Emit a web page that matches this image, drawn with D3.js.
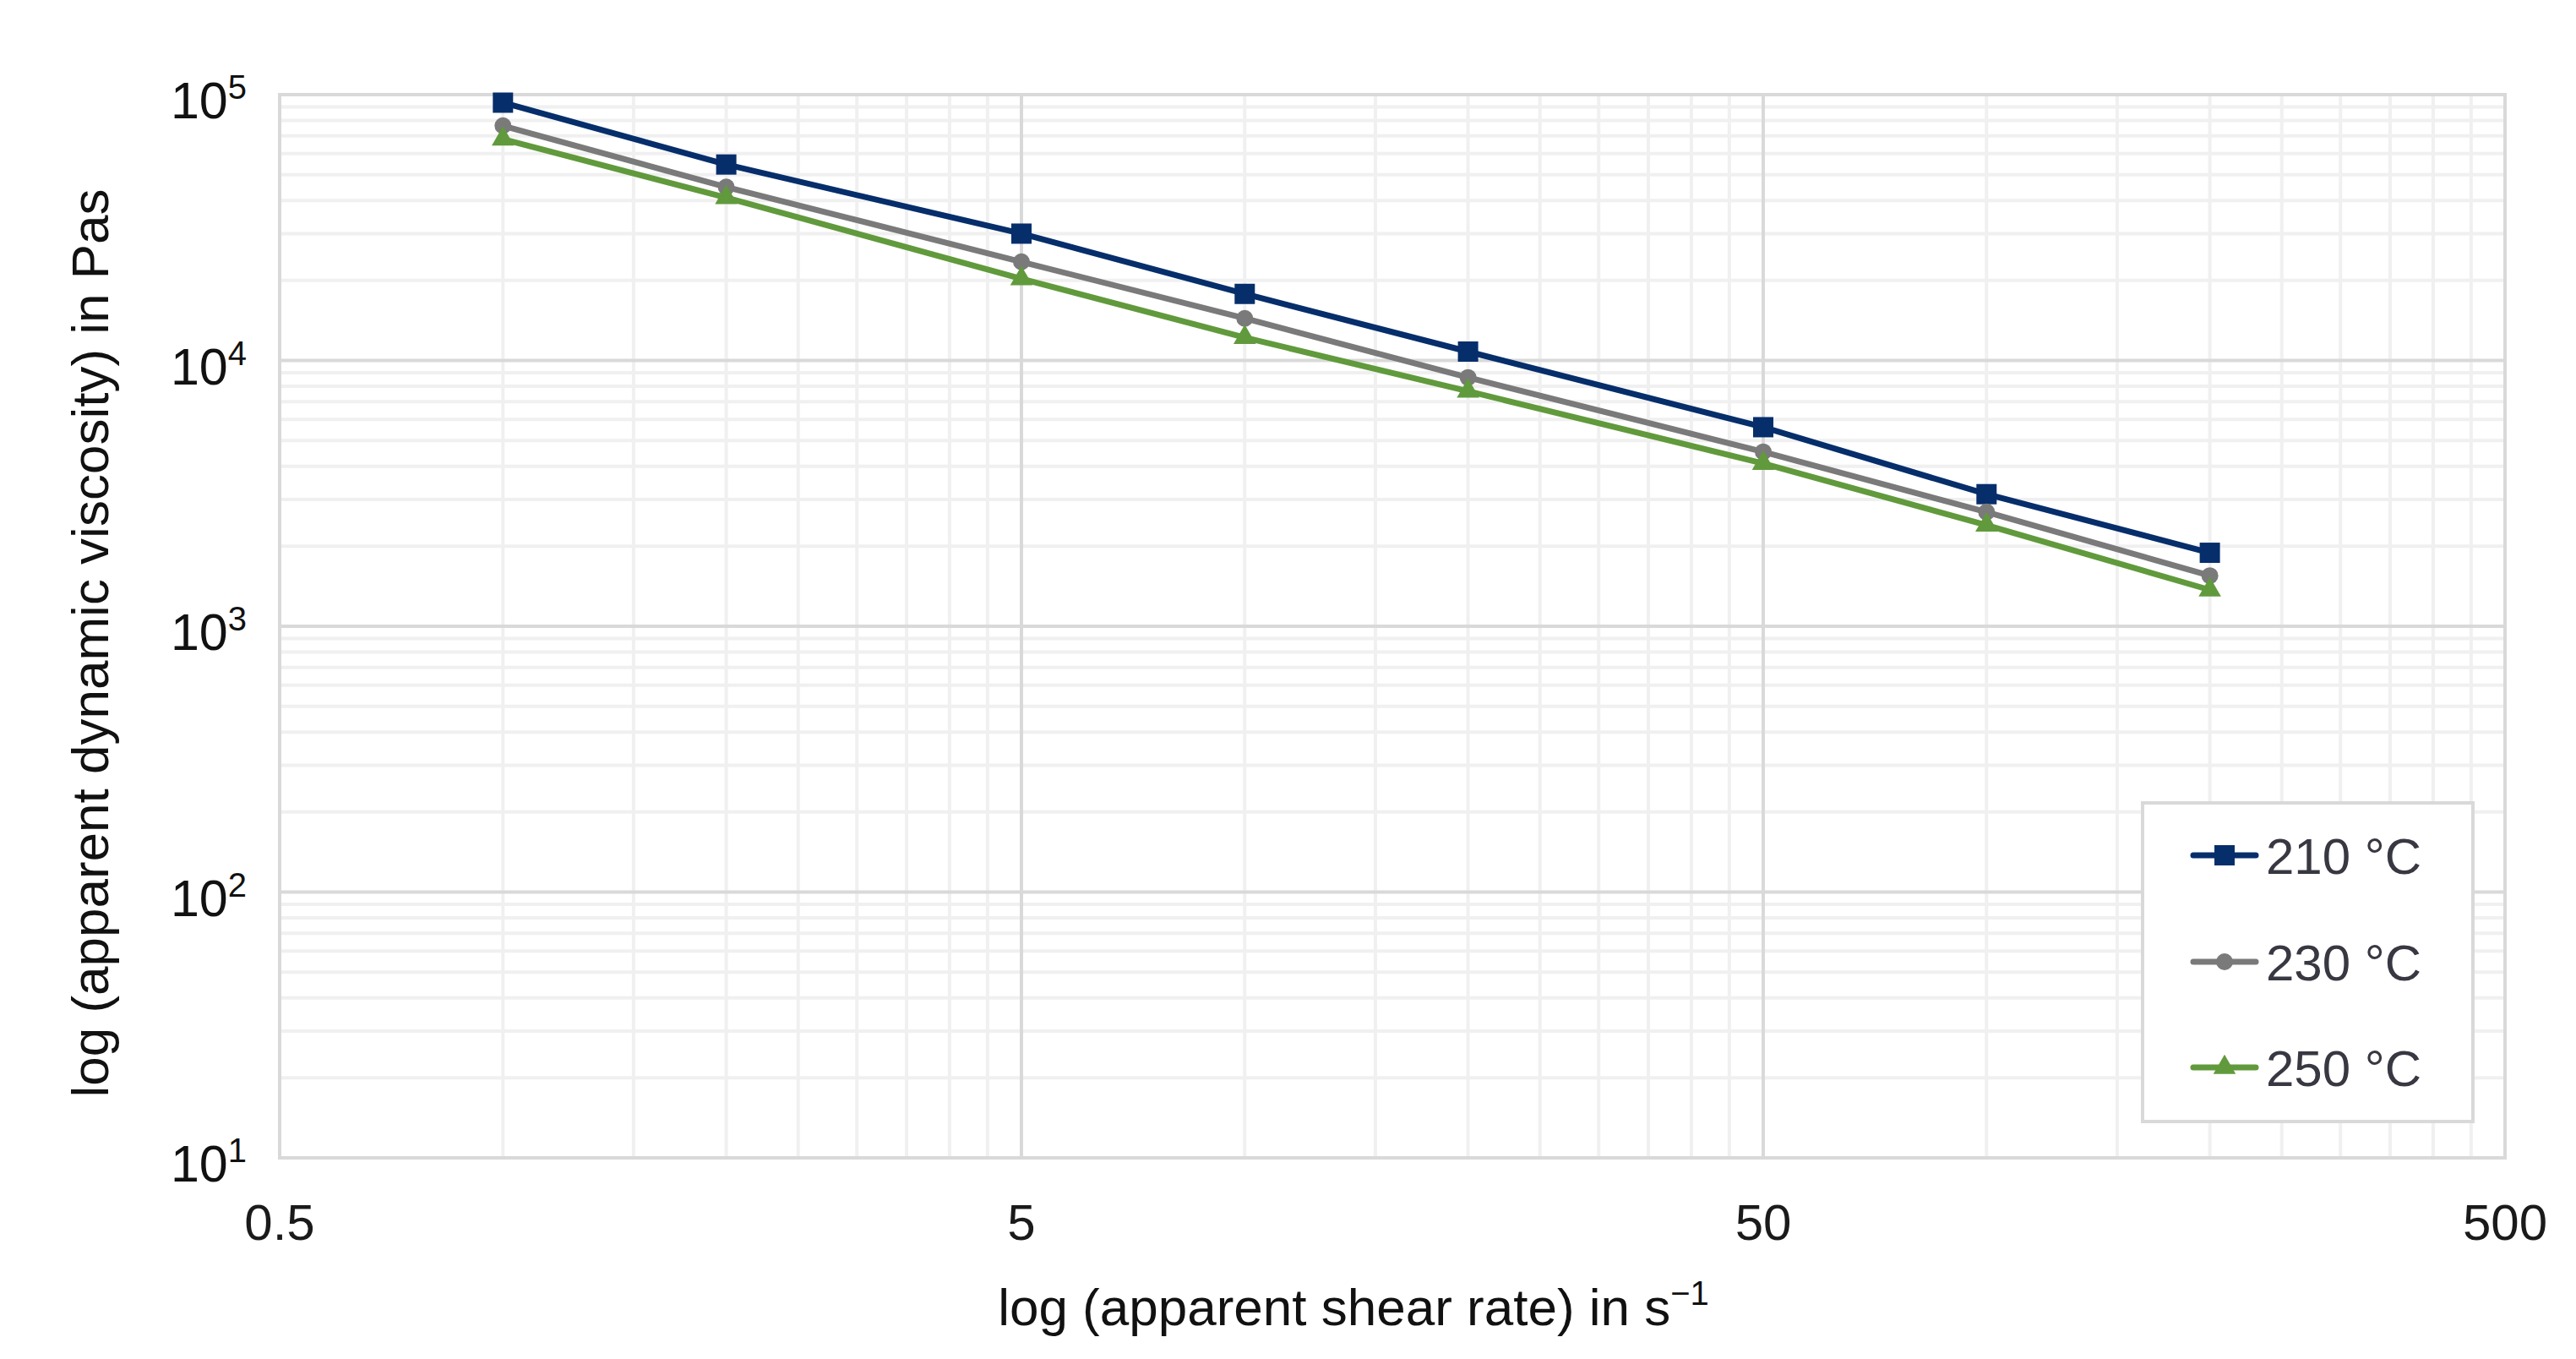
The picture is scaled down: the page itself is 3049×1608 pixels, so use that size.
<!DOCTYPE html>
<html>
<head>
<meta charset="utf-8">
<script src="https://cdn.jsdelivr.net/npm/d3@7"></script>
<style>
  html, body { margin: 0; padding: 0; background: #ffffff; }
  svg { display: block; }
  text { font-family: "Liberation Sans", Arial, sans-serif; }
</style>
</head>
<body>
<svg id="chart" width="3049" height="1608"></svg>
<script>
// ---- data ----
const shearRates = [1, 2, 5, 10, 20, 50, 100, 200];
const visc210 = [93300, 54600, 30000, 17800, 10800, 5610, 3140, 1890];
const visc230 = [76400, 44900, 23500, 14400, 8630, 4530, 2690, 1550];
const visc250 = [68000, 41000, 20300, 12200, 7660, 4100, 2400, 1370];
const seriesNames = ["210 °C", "230 °C", "250 °C"];
const xTickValues = [0.5, 5, 50, 500];
const xTickLabels = ["0.5", "5", "50", "500"];
const yTickValues = [10, 100, 1000, 10000, 100000];
const yTickExponents = ["1", "2", "3", "4", "5"];
const xTitle = "log (apparent shear rate) in s";
const xTitleSup = "\u22121";
const yTitle = "log (apparent dynamic viscosity) in Pas";

// ---- styling ----
const colors = ["#062e6b", "#7a7a7a", "#619a3c"];
const symbols = [d3.symbolSquare, d3.symbolCircle, d3.symbolTriangle];
const symbolSizes = [576, 314, 305];
const series = [visc210, visc230, visc250];

const svg = d3.select("#chart");
const L = 331, R = 2965, T = 112, B = 1370;

const x = d3.scaleLog().domain([0.5, 500]).range([L, R]);
const y = d3.scaleLog().domain([10, 100000]).range([B, T]);

// minor gridlines
const xMinor = [];
[0.5, 5, 50].forEach(b => { for (let k = 2; k <= 9; k++) xMinor.push(b * k); });
const yMinor = [];
[10, 100, 1000, 10000].forEach(b => { for (let k = 2; k <= 9; k++) yMinor.push(b * k); });

const grid = svg.append("g");
grid.selectAll(".xminor").data(xMinor).enter().append("line")
  .attr("x1", d => x(d)).attr("x2", d => x(d)).attr("y1", T).attr("y2", B)
  .attr("stroke", "#f0f0f0").attr("stroke-width", 4);
grid.selectAll(".yminor").data(yMinor).enter().append("line")
  .attr("y1", d => y(d)).attr("y2", d => y(d)).attr("x1", L).attr("x2", R)
  .attr("stroke", "#f0f0f0").attr("stroke-width", 4);
grid.selectAll(".xmajor").data(xTickValues).enter().append("line")
  .attr("x1", d => x(d)).attr("x2", d => x(d)).attr("y1", T).attr("y2", B)
  .attr("stroke", "#d9d9d9").attr("stroke-width", 4);
grid.selectAll(".ymajor").data(yTickValues).enter().append("line")
  .attr("y1", d => y(d)).attr("y2", d => y(d)).attr("x1", L).attr("x2", R)
  .attr("stroke", "#d9d9d9").attr("stroke-width", 4);

// plot frame
svg.append("rect").attr("x", L).attr("y", T).attr("width", R - L).attr("height", B - T)
  .attr("fill", "none").attr("stroke", "#d9d9d9").attr("stroke-width", 4);

// x tick labels
svg.append("g").selectAll("text").data(xTickValues).enter().append("text")
  .attr("x", d => x(d)).attr("y", 1467)
  .attr("text-anchor", "middle").attr("font-size", 60).attr("fill", "#1a1a1a")
  .text((d, i) => xTickLabels[i]);

// y tick labels
const yt = svg.append("g").selectAll("text").data(yTickValues).enter().append("text")
  .attr("x", 292).attr("y", d => y(d) + 28)
  .attr("text-anchor", "end").attr("font-size", 61).attr("fill", "#111");
yt.append("tspan").text("10");
yt.append("tspan").attr("dy", -23).attr("font-size", 40).text((d, i) => yTickExponents[i]);

// axis titles
const xt = svg.append("text").attr("x", 1602).attr("y", 1568)
  .attr("text-anchor", "middle").attr("font-size", 62).attr("fill", "#111");
xt.append("tspan").text(xTitle);
xt.append("tspan").attr("dy", -24).attr("font-size", 40).text(xTitleSup);

svg.append("text").attr("transform", "translate(128,761) rotate(-90)")
  .attr("text-anchor", "middle").attr("font-size", 62).attr("fill", "#111")
  .text(yTitle);

// series
const line = d3.line().x(d => x(d[0])).y(d => y(d[1]));
series.forEach((vals, si) => {
  const pts = shearRates.map((s, i) => [s, vals[i]]);
  const g = svg.append("g");
  g.append("path").datum(pts).attr("d", line)
    .attr("fill", "none").attr("stroke", colors[si]).attr("stroke-width", 7)
    .attr("stroke-linejoin", "round");
  g.selectAll("path.m").data(pts).enter().append("path")
    .attr("class", "m")
    .attr("transform", d => `translate(${x(d[0])},${y(d[1])})`)
    .attr("d", d3.symbol().type(symbols[si]).size(symbolSizes[si]))
    .attr("fill", colors[si]);
});

// legend
const lg = svg.append("g");
lg.append("rect").attr("x", 2536).attr("y", 950).attr("width", 391).attr("height", 377)
  .attr("fill", "#ffffff").attr("stroke", "#d9d9d9").attr("stroke-width", 4);
const legendY = [1012, 1138, 1263];
seriesNames.forEach((name, si) => {
  const ly = legendY[si];
  lg.append("line").attr("x1", 2596).attr("x2", 2670).attr("y1", ly).attr("y2", ly)
    .attr("stroke", colors[si]).attr("stroke-width", 7).attr("stroke-linecap", "round");
  lg.append("path").attr("transform", `translate(2633,${ly})`)
    .attr("d", d3.symbol().type(symbols[si]).size(symbolSizes[si]))
    .attr("fill", colors[si]);
  lg.append("text").attr("x", 2682).attr("y", ly + 22)
    .attr("font-size", 60).attr("fill", "#383842").text(name);
});
</script>
</body>
</html>
